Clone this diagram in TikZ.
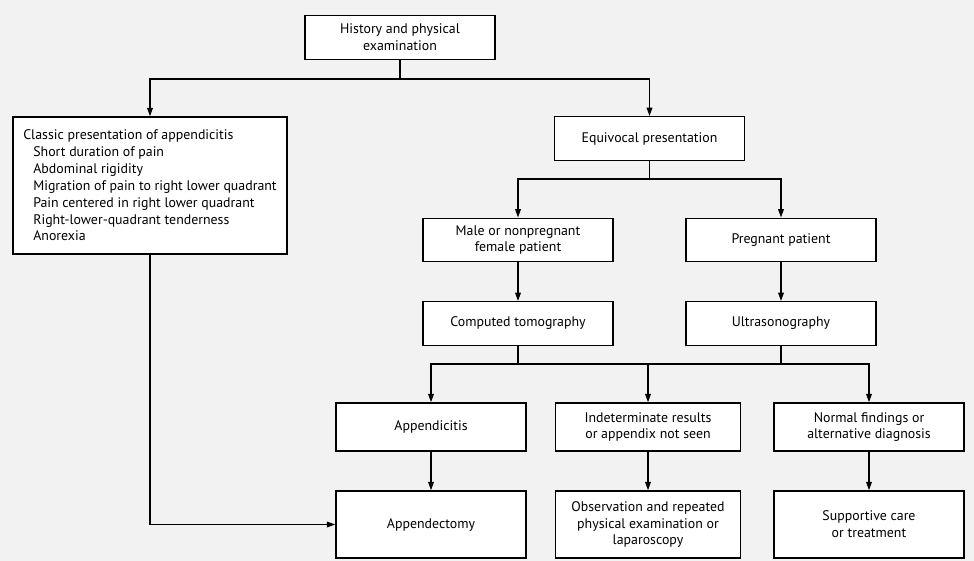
\documentclass[tikz,border=0pt]{standalone}
\usepackage{fontspec}
\setmainfont{PT Sans}
\usetikzlibrary{arrows.meta}

\begin{document}
\begin{tikzpicture}[x = 0.02cm, y = -0.02cm,
	box/.style = {draw, fill = white, line width = 0.8pt, align = center, inner sep = 2pt,
		minimum width = 3.8cm, minimum height = 0.87cm, font = \fontsize{7.9}{9.6}\selectfont},
	tallbox/.style = {box, minimum height = 1.34cm},
	arr/.style = {-{Triangle[length = 4.8pt, width = 3.2pt]}, line width = 0.8pt}]
	\fill[black!5] (0,0) rectangle (974,561);
	\useasboundingbox (0,0) rectangle (974,561);

	\node[box] (hist) at (400,37.5) {History and physical\\examination};
	\node[box, align = left, minimum width = 5.48cm, minimum height = 2.74cm] (classic) at (150,185.5)
		{Classic presentation of appendicitis\\
		\hspace*{0.2cm}Short duration of pain\\
		\hspace*{0.2cm}Abdominal rigidity\\
		\hspace*{0.2cm}Migration of pain to right lower quadrant\\
		\hspace*{0.2cm}Pain centered in right lower quadrant\\
		\hspace*{0.2cm}Right-lower-quadrant tenderness\\
		\hspace*{0.2cm}Anorexia};
	\node[box] (equiv) at (649.5,138.5) {Equivocal presentation};
	\node[box] (male) at (518,240) {Male or nonpregnant\\female patient};
	\node[box] (preg) at (781,240) {Pregnant patient};
	\node[box] (ct) at (518,323.5) {Computed tomography};
	\node[box] (us) at (781,323.5) {Ultrasonography};
	\node[box, minimum height = 0.96cm] (appc) at (431,427) {Appendicitis};
	\node[box, minimum height = 0.96cm, minimum width = 3.7cm] (indet) at (648,427) {Indeterminate results\\or appendix not seen};
	\node[box, minimum height = 0.96cm] (normal) at (869,427) {Normal findings or\\alternative diagnosis};
	\node[tallbox] (appy) at (431,524.5) {Appendectomy};
	\node[tallbox, minimum width = 3.7cm] (obs) at (648,524.5) {Observation and repeated\\physical examination or\\laparoscopy};
	\node[tallbox] (supp) at (869,524.5) {Supportive care\\or treatment};

	\path (hist.south) ++(0,19) coordinate (s1);
	\path (equiv.south) ++(0,18) coordinate (s2);
	\path (ct.south) ++(0,18) coordinate (s3);
	\path (us.south) ++(0,18) coordinate (s4);

	\draw[line width = 0.8pt] (hist) -- (s1);
	\draw[arr] (s1) -| (classic.north);
	\draw[arr] (s1) -| (equiv.north);
	\draw[line width = 0.8pt] (equiv) -- (s2);
	\draw[arr] (s2) -| (male.north);
	\draw[arr] (s2) -| (preg.north);
	\draw[arr] (male) -- (ct);
	\draw[arr] (preg) -- (us);
	\draw[line width = 0.8pt] (ct) -- (s3) -- (s4) -- (us);
	\draw[arr] (s3) -| (appc.north);
	\draw[arr] (s3 -| indet.north) -- (indet.north);
	\draw[arr] (s4) -| (normal.north);
	\draw[arr] (appc) -- (appy);
	\draw[arr] (indet) -- (obs);
	\draw[arr] (normal) -- (supp);
	\draw[arr] (classic.south) |- (appy.west);
\end{tikzpicture}
\end{document}
